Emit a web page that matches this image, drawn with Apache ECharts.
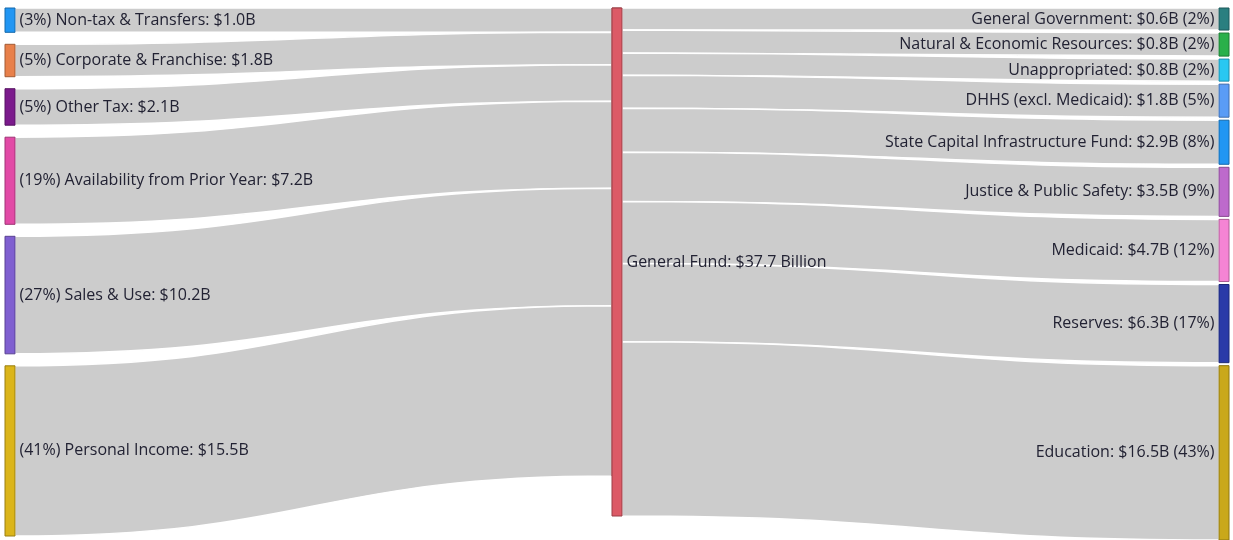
<!DOCTYPE html>
<html>
<head>
<meta charset="utf-8">
<script src="https://cdn.jsdelivr.net/npm/echarts@6/dist/echarts.min.js"></script>
<style>
  html, body { margin: 0; padding: 0; background: #fff; }
  #chart { width: 1233px; height: 540px; }
</style>
</head>
<body>
<div id="chart"></div>
<script>
// revenue sources (left column)
const sources = ['Non-tax & Transfers', 'Corporate & Franchise', 'Other Tax',
  'Availability from Prior Year', 'Sales & Use', 'Personal Income'];
// amounts printed in the labels ($B)
const sourceAmounts = [1.0, 1.8, 2.1, 7.2, 10.2, 15.5];
const sourcePct = [3, 5, 5, 19, 27, 41];
// flow thickness as drawn in the picture (same relative units as useFlows)
const sourceFlows = [2.4, 3.2, 3.6, 8.6, 11.6, 16.8];
const sourceColors = ['#2196f3', '#e8804a', '#7b1a8c', '#e24aa6', '#7f5fd0', '#dbb51a'];

// middle node
const fundName = 'General Fund';
const fundTotal = 37.7;
const fundColor = '#dc5a66';

// uses (right column)
const uses = ['General Government', 'Natural & Economic Resources', 'Unappropriated',
  'DHHS (excl. Medicaid)', 'State Capital Infrastructure Fund', 'Justice & Public Safety',
  'Medicaid', 'Reserves', 'Education'];
const useAmounts = [0.6, 0.8, 0.8, 1.8, 2.9, 3.5, 4.7, 6.3, 16.5];
const usePct = [2, 2, 2, 5, 8, 9, 12, 17, 43];
const useFlows = [2.2, 2.3, 2.2, 3.3, 4.4, 4.9, 6.2, 7.8, 17.4];
const useColors = ['#2a7f80', '#2ab04a', '#29c8f2', '#5a9cf6', '#2196f3', '#bd6acc',
  '#f584d4', '#2a3aa8', '#c9a81a'];

// 深一点的描边色
const darken = (hex) => {
  const n = parseInt(hex.slice(1), 16);
  const f = c => Math.round(c * 0.7);
  return 'rgb(' + f(n >> 16) + ',' + f((n >> 8) & 255) + ',' + f(n & 255) + ')';
};

const fundNode = (showLabel) => ({
  name: fundName,
  itemStyle: {color: fundColor, borderColor: darken(fundColor)},
  label: {show: showLabel, position: 'right', formatter: fundName + ': $' + fundTotal + ' Billion'}
});

// 左半边：收入 -> General Fund
const leftNodes = [];
const leftLinks = [];
sources.forEach((s, i) => {
  leftNodes.push({
    name: s,
    itemStyle: {color: sourceColors[i], borderColor: darken(sourceColors[i])},
    label: {position: 'right', formatter: '(' + sourcePct[i] + '%) ' + s + ': $' + sourceAmounts[i].toFixed(1) + 'B'}
  });
  leftLinks.push({source: s, target: fundName, value: sourceFlows[i]});
});
leftNodes.push(fundNode(false));

// 右半边：General Fund -> 支出
const rightNodes = [fundNode(true)];
const rightLinks = [];
uses.forEach((u, i) => {
  rightNodes.push({
    name: u,
    itemStyle: {color: useColors[i], borderColor: darken(useColors[i])},
    label: {position: 'left', formatter: u + ': $' + useAmounts[i].toFixed(1) + 'B (' + usePct[i] + '%)'}
  });
  rightLinks.push({source: fundName, target: u, value: useFlows[i]});
});

const common = {
  type: 'sankey',
  top: 8,
  nodeWidth: 10,
  layoutIterations: 0,
  draggable: false,
  itemStyle: {borderWidth: 1},
  lineStyle: {color: '#cccccc', opacity: 1, curveness: 0.5, borderColor: '#ffffff', borderWidth: 1.5},
  label: {
    fontFamily: 'Open Sans',
    fontSize: 16,
    color: '#222233',
    distance: 4
  },
  emphasis: {disabled: true}
};

const chart = echarts.init(document.getElementById('chart'));
chart.setOption({
  animation: false,
  series: [
    Object.assign({}, common, {
      left: 5,
      right: 611,
      bottom: 4,
      nodeGap: 12,
      data: leftNodes,
      links: leftLinks,
      z: 1
    }),
    Object.assign({}, common, {
      left: 612,
      right: 4,
      bottom: 0,
      nodeGap: 3,
      data: rightNodes,
      links: rightLinks,
      z: 2
    })
  ]
});
</script>
</body>
</html>
